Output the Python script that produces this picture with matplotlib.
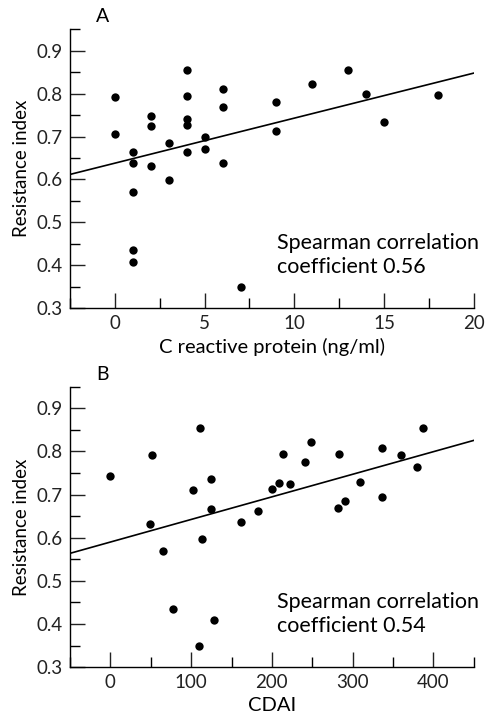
import numpy as np
import matplotlib.pyplot as plt
from matplotlib.ticker import MultipleLocator

plt.rcParams['font.family'] = ['Lato', 'DejaVu Sans']

# panel A: C reactive protein vs resistance index
crp = [0, 0, 1, 1, 1, 1, 1, 2, 2, 2, 3, 3, 4, 4, 4, 4, 4, 5, 5, 6, 6, 6, 7,
       9, 9, 11, 13, 14, 15, 18]
ri_a = [0.792, 0.707, 0.664, 0.639, 0.571, 0.435, 0.408, 0.747, 0.724, 0.631,
        0.684, 0.598, 0.855, 0.795, 0.740, 0.726, 0.663, 0.699, 0.671, 0.811,
        0.769, 0.639, 0.350, 0.780, 0.713, 0.823, 0.856, 0.799, 0.733, 0.796]
fit_a = (0.0105, 0.638)  # slope, intercept

# panel B: CDAI vs resistance index
cdai = [0, 49, 51, 65, 78, 102, 111, 110, 114, 125, 125, 128, 162, 183, 200,
        209, 214, 223, 241, 249, 283, 282, 290, 309, 336, 336, 360, 380, 387]
ri_b = [0.744, 0.631, 0.792, 0.570, 0.435, 0.711, 0.855, 0.349, 0.598, 0.736,
        0.666, 0.409, 0.637, 0.662, 0.713, 0.726, 0.795, 0.725, 0.776, 0.822,
        0.795, 0.670, 0.686, 0.730, 0.809, 0.695, 0.792, 0.764, 0.855]
fit_b = (0.000524, 0.590)


def panel(ax, x, y, fit, xlim, major, xlabel, letter, rho):
    ax.scatter(x, y, s=36, color='black', zorder=3, linewidths=0)
    xs = np.array(xlim)
    ax.plot(xs, fit[0] * xs + fit[1], color='black', lw=1.2)
    ax.set_xlim(xlim)
    ax.set_ylim(0.3, 0.95)
    ax.xaxis.set_major_locator(MultipleLocator(major))
    ax.xaxis.set_minor_locator(MultipleLocator(major / 2))
    ax.yaxis.set_minor_locator(MultipleLocator(0.05))
    ax.set_yticks(np.arange(0.3, 0.91, 0.1))
    ax.set_yticklabels(['0.3', '0.4', '0.5', '0.6', '0.7', '0.8', '0.9'])
    for s in ['top', 'right']:
        ax.spines[s].set_visible(False)
    for s in ['left', 'bottom']:
        ax.spines[s].set_linewidth(1.0)
    ax.tick_params(which='major', direction='in', length=11, width=1,
                   labelsize=13.5, pad=5, colors='#222222')
    ax.tick_params(which='minor', direction='in', length=7, width=1)
    ax.set_ylabel('Resistance index', fontsize=13.5, labelpad=5)
    ax.set_xlabel(xlabel, fontsize=14.5, labelpad=4)
    ax.text(0.065, 1.015, letter, transform=ax.transAxes, fontsize=14,
            va='bottom')
    ax.text(0.513, 0.19, 'Spearman correlation\ncoefficient ' + rho,
            transform=ax.transAxes, fontsize=15.5, va='center', ha='left',
            linespacing=1.25)


fig = plt.figure(figsize=(4.86, 7.15), dpi=100)
ax1 = fig.add_axes([0.144, 0.569, 0.831, 0.390])
ax2 = fig.add_axes([0.144, 0.067, 0.831, 0.392])

panel(ax1, crp, ri_a, fit_a, (-2.5, 20), 5, 'C reactive protein (ng/ml)', 'A', '0.56')
panel(ax2, cdai, ri_b, fit_b, (-50, 450), 100, 'CDAI', 'B', '0.54')

fig.savefig('out.png', dpi=100)
